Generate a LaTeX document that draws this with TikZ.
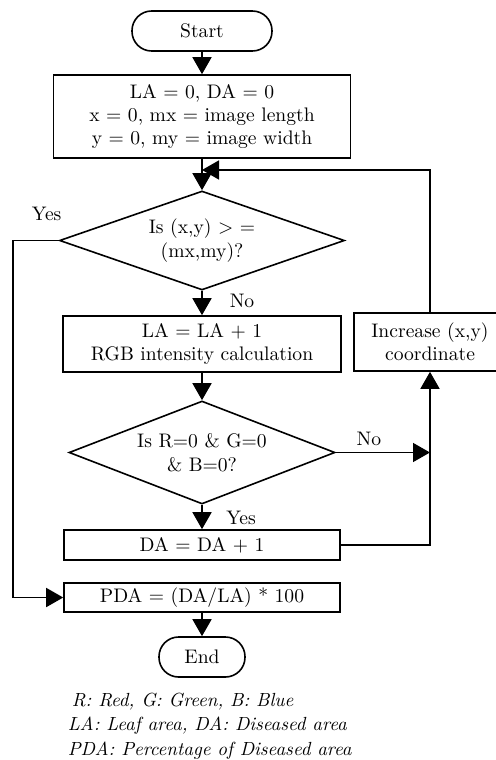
\documentclass[tikz,border=0pt]{standalone}
\usepackage{amsmath}
\usetikzlibrary{positioning,shapes.geometric,arrows.meta}

\begin{document}
\begin{tikzpicture}[
        font = \fontsize{9.8}{11.75}\selectfont,
        >={Triangle[width=9.5pt,length=8.5pt]},
        thick,
        term/.style = {draw=black, rectangle, rounded corners=9.8pt, minimum width=70pt, minimum height=20pt, inner sep=0pt},
        proc/.style = {draw=black, rectangle, align=center, inner sep=0pt},
        decision/.style = {draw=black, diamond, align=center, inner sep=0pt},
        lbl/.style = {inner sep=0pt}]
        \useasboundingbox (0,0) rectangle (248pt,-380pt);
        % NODES
        % start
        \node[term] (start) at (101pt,-15.5pt) {Start};
        % initialisation
        \node[proc, minimum width=148.5pt, minimum height=41.5pt, below of = start, node distance = 42.75pt] (init) {LA = 0, DA = 0\\x = 0, mx = image length\\y = 0, my = image width};
        % end of image test
        \node[decision, aspect=2.9, minimum width=142.5pt, minimum height=49.5pt, below of = init, node distance = 62pt] (check) {Is (x,y) > =\\(mx,my)?};
        % pixel step
        \node[proc, minimum width=139pt, minimum height=28pt, below of = check, node distance = 51.75pt] (calc) {LA = LA + 1\\RGB intensity calculation};
        % black pixel test
        \node[decision, aspect=2.6, minimum width=133pt, minimum height=51.5pt, below of = calc, node distance = 54.25pt] (rgb) {Is R=0 \& G=0\\\& B=0?};
        % diseased count
        \node[proc, minimum width=138pt, minimum height=15pt, below of = rgb, node distance = 46.25pt] (da) {DA = DA + 1};
        % percentage
        \node[proc, minimum width=138pt, minimum height=14.5pt, below of = da, node distance = 26.25pt] (pda) {PDA = (DA/LA) * 100};
        % end
        \node[term, minimum width=43pt, below of = pda, node distance = 29.75pt] (end) {End};
        % next pixel
        \node[proc, minimum width=76pt, minimum height=29pt, right of = calc, node distance = 114pt, yshift=1pt] (incr) {Increase (x,y)\\coordinate};
        % loop entry
        \coordinate[above of = check, node distance = 35.25pt] (loop);
        % legend
        \node[anchor=base west, align=left, inner sep=0pt, font=\fontsize{9.5}{12.25}\selectfont\itshape] (legend) at (33.5pt,-377.5pt) {\hspace*{2pt}R: Red, G: Green, B: Blue\\LA: Leaf area, DA: Diseased area\\PDA: Percentage of Diseased area};

        % LABELS
        \node[lbl] (yes1) at ([shift={(-6pt,13.5pt)}]check.west) {Yes};
        \node[lbl] (no1) at ([shift={(20pt,-5pt)}]check.south) {No};
        \node[lbl] (no2) at ([shift={(16.5pt,7pt)}]rgb.east) {No};
        \node[lbl] (yes2) at ([shift={(19.5pt,-6.5pt)}]rgb.south) {Yes};

        % ARROWS
        \draw[->] (start)--(init);
        \draw[->] (init)--(check);
        \draw[->] (check)--(calc);
        \draw[->] (calc)--(rgb);
        \draw[->] (rgb)--(da);
        \draw[->] (pda)--(end);
        \draw[->] (check.west) -- ++(-23pt,0) |- (pda.west);
        \draw[->] (rgb.east) -- (rgb.east -| incr.south);
        \draw[->] (da.east) -| (incr.south);
        \draw[->] (incr.north) |- (loop);
    \end{tikzpicture}
\end{document}
